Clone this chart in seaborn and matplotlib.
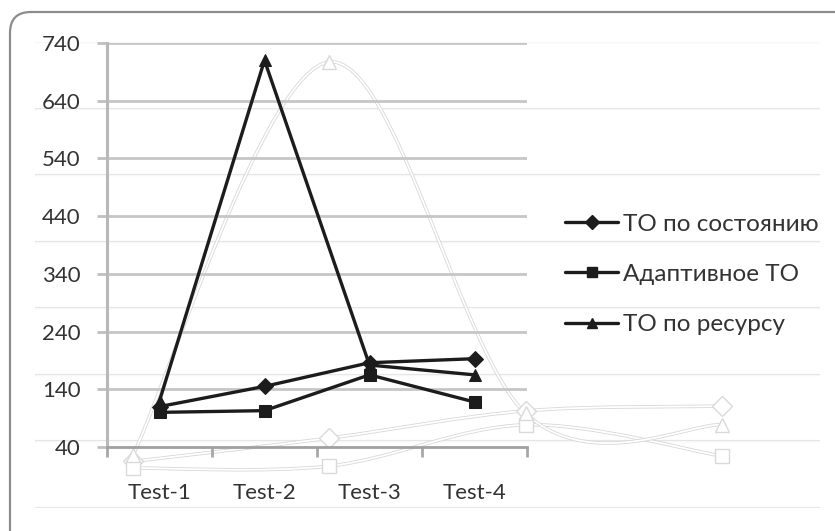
import numpy as np
import pandas as pd
import matplotlib
matplotlib.use("Agg")
import matplotlib.pyplot as plt
import seaborn as sns
from matplotlib.path import Path
from matplotlib.patches import PathPatch, FancyBboxPatch
from matplotlib.lines import Line2D
import matplotlib.patheffects as pe

# ---- data ----
categories = ["Test-1", "Test-2", "Test-3", "Test-4"]
series_names = ["ТО по состоянию", "Адаптивное ТО", "ТО по ресурсу"]
to_sostoyaniyu = [110, 145, 186, 193]
adaptivnoe_to = [100, 103, 165, 118]
to_resursu = [120, 710, 182, 165]
y_ticks = [40, 140, 240, 340, 440, 540, 640, 740]

values = [to_sostoyaniyu, adaptivnoe_to, to_resursu]
markers = {"ТО по состоянию": "D", "Адаптивное ТО": "s", "ТО по ресурсу": "^"}
msizes = {"ТО по состоянию": 8, "Адаптивное ТО": 8.5, "ТО по ресурсу": 8.5}

rows = []
for name, vals in zip(series_names, values):
    for i, (c, v) in enumerate(zip(categories, vals)):
        rows.append({"series": name, "cat": c, "pos": i, "value": v})
df = pd.DataFrame(rows)

sns.set_theme(style="white")
plt.rcParams["font.family"] = ["Lato", "DejaVu Sans"]

W, H = 835, 531
fig = plt.figure(figsize=(W / 100, H / 100), dpi=100)
fig.patch.set_facecolor("white")


def px_rect(x0, y0, x1, y1):
    return [x0 / W, 1 - y1 / H, (x1 - x0) / W, (y1 - y0) / H]


# ---- faint ghost copy (background reflection) ----
gax = fig.add_axes(px_rect(35, 42, 820, 508), zorder=0)
gax.set_xlim(-0.5, 3.5)
gax.set_ylim(40, 740)
gax.axis("off")
for t in y_ticks:
    gax.axhline(t, color="#e6e6e6", lw=1.6, zorder=0)
    gax.axhline(t, color="white", lw=0.5, zorder=0)


def smooth_path(xs, ys):
    pts = np.column_stack([xs, ys]).astype(float)
    n = len(pts)
    verts = [pts[0]]
    codes = [Path.MOVETO]
    for i in range(n - 1):
        p0 = pts[i - 1] if i > 0 else pts[i]
        p1 = pts[i]
        p2 = pts[i + 1]
        p3 = pts[i + 2] if i + 2 < n else pts[i + 1]
        c1 = p1 + (p2 - p0) / 6.0
        c2 = p2 - (p3 - p1) / 6.0
        verts += [c1, c2, p2]
        codes += [Path.CURVE4] * 3
    return Path(verts, codes)


for name, vals in zip(series_names, values):
    xs = np.arange(len(categories))
    patch = PathPatch(smooth_path(xs, vals), facecolor="none", edgecolor="white",
                      lw=1.3, zorder=2)
    patch.set_path_effects([pe.Stroke(linewidth=2.5, foreground="#d8d8d8"), pe.Normal()])
    gax.add_patch(patch)
    gax.plot(xs, vals, linestyle="none", marker=markers[name], ms=msizes[name] + 2,
             mfc="white", mec="#dadada", mew=1.0, zorder=3)

# ---- main chart ----
ax = fig.add_axes(px_rect(107, 43, 527, 447), zorder=1)
ax.patch.set_alpha(0)

for t in y_ticks[1:]:
    ax.axhline(t, color="#c6c6c6", lw=2.0, zorder=0)

for name in series_names:
    sns.lineplot(data=df[df["series"] == name], x="pos", y="value", ax=ax,
                 color="#1c1c1c", marker=markers[name], markersize=msizes[name],
                 markeredgecolor="#1c1c1c", linewidth=2.4, legend=False, zorder=3)

ax.set_xlim(-0.5, 3.5)
ax.set_ylim(40, 740)
ax.set_yticks(y_ticks)
ax.set_yticklabels([str(t) for t in y_ticks])
ax.set_xticks(range(len(categories)))
ax.set_xticklabels(categories)
ax.set_xticks(np.arange(-0.5, 4.0, 1.0), minor=True)
ax.set_xlabel("")
ax.set_ylabel("")

for s in ["top", "right"]:
    ax.spines[s].set_visible(False)
ax.spines["left"].set_color("#b8b8b8")
ax.spines["left"].set_linewidth(2.2)
ax.spines["bottom"].set_color("#a0a0a0")
ax.spines["bottom"].set_linewidth(2.0)

ax.tick_params(axis="y", which="major", direction="out", length=7, width=2,
               color="#c0c0c0", pad=12, labelsize=16, labelcolor="#333333", left=True)
ax.tick_params(axis="x", which="major", length=0, pad=26, labelsize=16,
               labelcolor="#333333", bottom=True)
ax.tick_params(axis="x", which="minor", direction="out", length=7, width=2,
               color="#a8a8a8", bottom=True)

handles = [Line2D([0], [0], color="#1c1c1c", lw=2.4, marker=markers[n],
                  ms=msizes[n] - 1, mec="#1c1c1c") for n in series_names]
leg = fig.legend(handles, series_names, loc="center left",
                 bbox_to_anchor=(565 / W, 1 - 274.5 / H), bbox_transform=fig.transFigure,
                 frameon=False, fontsize=17.5, handlelength=2.2, handletextpad=0.2,
                 labelspacing=1.2, borderpad=0, borderaxespad=0)
for txt in leg.get_texts():
    txt.set_color("#333333")

# ---- rounded chart border ----
border = FancyBboxPatch((10 / W, 1 - 560 / H), (900 - 10) / W, (560 - 12) / H,
                        boxstyle="round,pad=0,rounding_size=0.025",
                        transform=fig.transFigure, facecolor="none",
                        edgecolor="#8c8c8c", lw=1.6, zorder=10,
                        mutation_aspect=W / H)
fig.patches.append(border)

fig.savefig("out.png", dpi=100)
